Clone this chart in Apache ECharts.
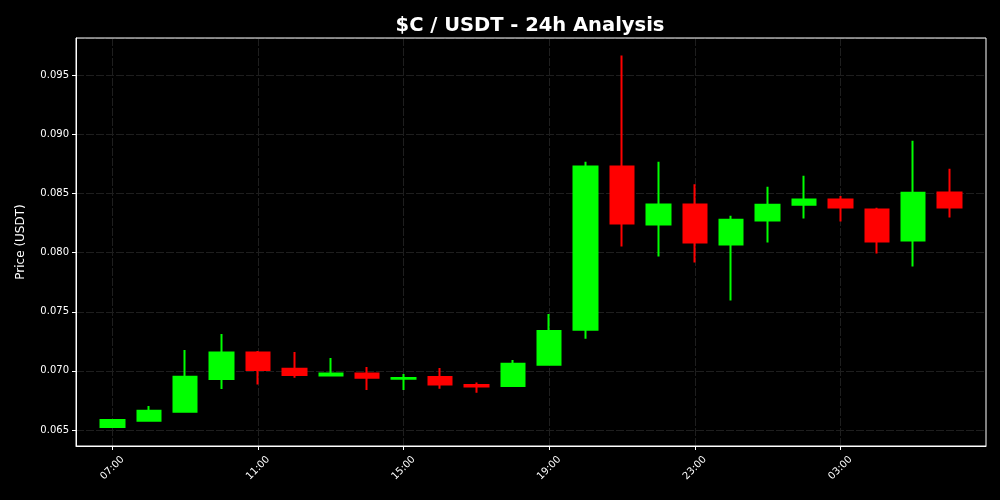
<!DOCTYPE html>
<html>
<head>
<meta charset="utf-8">
<script src="https://cdn.jsdelivr.net/npm/echarts@6/dist/echarts.min.js"></script>
<style>html,body{margin:0;padding:0;background:#000;}#c{width:1000px;height:500px;}</style>
</head>
<body>
<div id="c"></div>
<script>
const hours = ['07:00','08:00','09:00','10:00','11:00','12:00','13:00','14:00','15:00','16:00','17:00','18:00',
               '19:00','20:00','21:00','22:00','23:00','00:00','01:00','02:00','03:00','04:00','05:00','06:00'];
const open  = [0.06525,0.06579,0.06655,0.06932,0.07155,0.07019,0.06961,0.06977,0.06934,0.06949,0.06881,0.06873,
               0.07053,0.07349,0.08729,0.08238,0.08408,0.08069,0.08272,0.08405,0.08450,0.08365,0.08103,0.08510];
const close = [0.06585,0.06663,0.06951,0.07155,0.07008,0.06966,0.06977,0.06943,0.06940,0.06884,0.06867,0.07061,
               0.07338,0.08729,0.08247,0.08408,0.08086,0.08278,0.08405,0.08450,0.08382,0.08094,0.08507,0.08382];
const low   = [0.06519,0.06579,0.06647,0.06847,0.06884,0.06943,0.06961,0.06839,0.06839,0.06850,0.06816,0.06873,
               0.07053,0.07271,0.08052,0.07967,0.07917,0.07595,0.08086,0.08289,0.08264,0.07993,0.07883,0.08298];
const high  = [0.06593,0.06703,0.07177,0.07313,0.07169,0.07160,0.07110,0.07033,0.06974,0.07025,0.06901,0.07093,
               0.07482,0.08769,0.09669,0.08769,0.08580,0.08312,0.08558,0.08651,0.08481,0.08380,0.08947,0.08710];
const labelHours = ['07:00','11:00','15:00','19:00','23:00','03:00'];

// one empty slot of padding on each side of the 24 hourly candles
const categories = [''].concat(hours, [' ']);
const candles = hours.map((h, i) => [h, open[i], close[i], low[i], high[i]]);
const showAt = (idx, val) => labelHours.indexOf(val) >= 0;

const chart = echarts.init(document.getElementById('c'));
chart.setOption({
  backgroundColor: '#000',
  animation: false,
  title: {
    text: '$C / USDT - 24h Analysis',
    left: 525, top: 11, textAlign: 'center',
    textStyle: { color: '#fff', fontSize: 19.5, fontWeight: 'bold', fontFamily: 'DejaVu Sans' }
  },
  grid: { left: 76, right: 14, top: 38, bottom: 54, show: true, z: 10, borderColor: '#fff', borderWidth: 1, backgroundColor: 'transparent' },
  xAxis: {
    type: 'category',
    data: categories,
    boundaryGap: false,
    axisLine: { lineStyle: { color: '#fff', width: 1 } },
    axisTick: { interval: showAt, length: 4, lineStyle: { color: '#fff' } },
    axisLabel: { interval: showAt, rotate: 45, align: 'center', verticalAlign: 'middle', color: '#fff', fontSize: 10, fontFamily: 'DejaVu Sans', margin: 22 },
    splitLine: { show: true, interval: showAt, lineStyle: { color: '#1e1e1e', type: [8, 2], width: 1 } }
  },
  yAxis: {
    type: 'value',
    min: 0.063645,
    max: 0.09817,
    splitNumber: 6,
    name: 'Price (USDT)',
    nameLocation: 'middle',
    nameGap: 49,
    nameTextStyle: { color: '#fff', fontSize: 12, fontFamily: 'DejaVu Sans' },
    axisLine: { show: true, lineStyle: { color: '#fff', width: 1 } },
    axisTick: { show: true, length: 4, lineStyle: { color: '#fff' } },
    axisLabel: {
      color: '#fff', fontSize: 10, fontFamily: 'DejaVu Sans', margin: 7,
      showMinLabel: false, showMaxLabel: false,
      formatter: v => (Math.abs(v * 200 - Math.round(v * 200)) < 1e-6 ? v.toFixed(3) : '')
    },
    splitLine: { show: true, lineStyle: { color: '#1e1e1e', type: [8, 2], width: 1 } }
  },
  series: [{
    type: 'candlestick',
    data: candles,
    encode: { x: 0, y: [1, 2, 3, 4] },
    barWidth: 24,
    itemStyle: {
      color: '#00ff00', color0: '#ff0000',
      borderColor: '#00ff00', borderColor0: '#ff0000',
      borderWidth: 2
    }
  }]
});
</script>
</body>
</html>
